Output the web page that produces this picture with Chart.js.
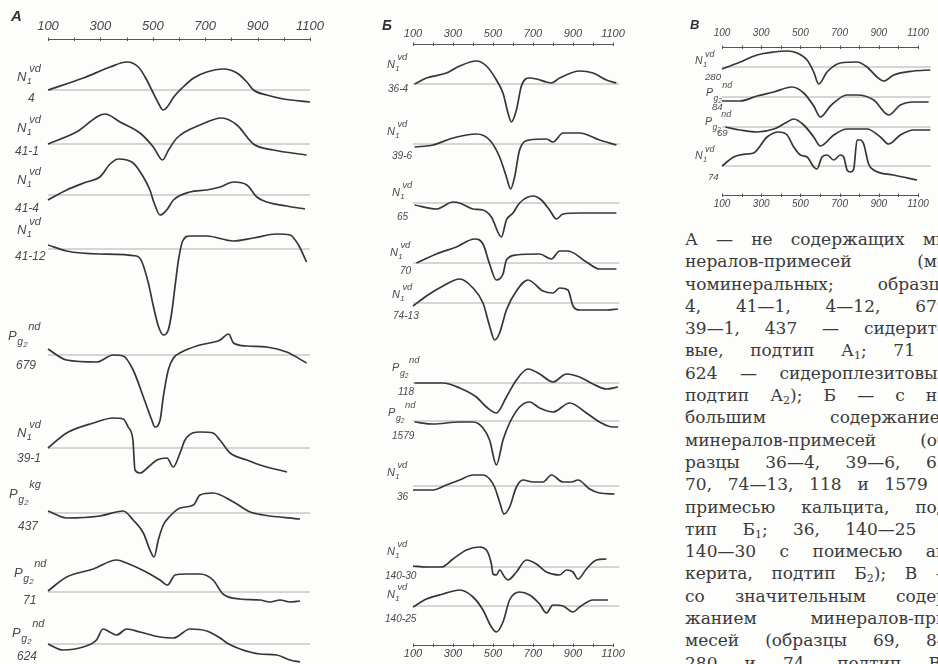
<!DOCTYPE html>
<html><head><meta charset="utf-8">
<script src="https://cdn.jsdelivr.net/npm/chart.js@4.4.1/dist/chart.umd.min.js"></script>
<style>
html,body{margin:0;padding:0}
body{width:938px;height:664px;overflow:hidden;position:relative;background:#fdfdfc}
canvas{position:absolute}
.t{position:absolute;font-family:"Liberation Sans",sans-serif;font-style:italic;color:#4a4a4a;line-height:1;white-space:nowrap}
#txt{position:absolute;left:685px;top:228px;font-family:"DejaVu Serif",serif;font-size:17px;color:#3a3a3a}
#txt div{width:268px;height:22.3px;line-height:22.3px;text-align:justify;text-align-last:justify;overflow:visible}
#txt sub{font-size:11px;line-height:0;vertical-align:-3px}
</style></head><body>
<div id="txt">
<div>А — не содержащих ми-</div>
<div>нералов-примесей (мо-</div>
<div>чоминеральных; образцы</div>
<div>4, 41—1, 4—12, 679,</div>
<div>39—1, 437 — сидерито-</div>
<div>вые, подтип А<sub>1</sub>; 71 и</div>
<div>624 — сидероплезитовые,</div>
<div>подтип А<sub>2</sub>); Б — с не-</div>
<div>большим содержанием</div>
<div>минералов-примесей (об-</div>
<div>разцы 36—4, 39—6, 65,</div>
<div>70, 74—13, 118 и 1579 с</div>
<div>примесью кальцита, под-</div>
<div>тип Б<sub>1</sub>; 36, 140—25 и</div>
<div>140—30 с поимесью ан-</div>
<div>керита, подтип Б<sub>2</sub>); В —</div>
<div>со значительным содер-</div>
<div>жанием минералов-при-</div>
<div>месей (образцы 69, 84,</div>
<div>280 и 74, подтип В).</div>
</div>
<script>
// ---------- axis ticks ----------
const TICKS = [100,200,300,400,500,600,700,800,900,1000,1100];
const TICK_LABELS = [100,300,500,700,900,1100];

// ---------- Panel A : temperatures (°C) and DTA deflections ----------
const A_4_T    = [100,235,337,401,445,477,496,521,539,555,580,612,656,706,770,821,859,884,935,999,1100];
const A_4_D    = [0,12,23,28,23,10,0,-13,-20,-17,-7,2,12,18,21,17,8,0,-5,-9,-12];
const A_41_1_T = [100,209,318,375,451,502,537,560,592,680,763,821,884,960,1087];
const A_41_1_D = [0,12,30,22,11,-3,-16,-6,6,19,26,19,0,-6,-11];
const A_41_4_T = [100,171,247,298,337,368,425,464,489,505,528,553,579,642,706,757,808,859,897,935,1011,1081];
const A_41_4_D = [-5,5,13,18,31,36,32,18,5,-8,-20,-15,-5,3,5,8,13,10,-2,-7,-11,-14];
const A_41_12_T= [100,171,298,438,457,483,502,521,540,559,572,585,598,614,642,706,808,884,973,1024,1056,1087];
const A_41_12_D= [4,-2,-5,-7,-12,-34,-57,-77,-86,-81,-64,-37,-11,8,13,13,8,11,15,14,4,-13];
const A_679_T  = [100,171,286,349,387,425,464,496,508,528,540,559,579,610,680,757,789,808,859,935,1011,1087];
const A_679_D  = [6,-5,-7,0,-1,-15,-42,-65,-72,-65,-42,-15,-3,3,10,15,21,12,9,8,3,-8];
const A_39_1_T = [100,171,273,349,387,406,424,432,451,483,516,554,578,604,623,680,730,756,795,859,909,1012];
const A_39_1_D = [0,15,25,30,29,21,8,-22,-25,-19,-12,-10,-19,-5,8,16,15,8,-5,-12,-17,-24];
const A_437_T  = [100,171,298,387,425,464,489,505,521,540,566,604,655,680,730,808,872,922,1062];
const A_437_D  = [2,-5,-3,2,-7,-20,-37,-44,-27,-12,-3,5,8,18,20,11,1,-2,-6];
const A_71_T   = [100,171,273,362,400,489,527,556,585,630,680,730,768,833,909,947,986,1024,1062];
const A_71_D   = [1,15,23,32,29,18,12,7,17,18,18,12,-2,-7,-8,-10,-8,-10,-9];
const A_624_T  = [100,157,234,285,310,342,362,400,451,527,579,642,706,757,783,833,909,973,1024,1062];
const A_624_D  = [0,-6,-3,4,15,11,9,15,12,7,6,15,13,6,1,-5,-10,-11,-16,-18];

// ---------- Panel Б ----------
const B_36_4_T  = [108,167,267,333,417,467,517,550,575,592,617,642,683,717,767,792,833,933,1000,1067,1117];
const B_36_4_D  = [0,6,11,18,23,18,4,-9,-29,-38,-26,-2,6,5,2,1,6,13,11,4,1];
const B_39_6_T  = [108,200,300,417,483,533,567,588,608,633,683,767,800,850,933,1033,1117];
const B_39_6_D  = [-3,-1,6,10,4,-13,-33,-45,-33,-6,4,5,2,11,11,4,-1];
const B_65_T    = [108,217,300,333,400,450,492,542,567,600,633,700,742,783,817,850,933,1117];
const B_65_D    = [-2,-6,1,0,-6,-7,-14,-34,-17,-10,0,7,3,-7,-16,-11,-10,-10];
const B_70_T    = [117,217,317,408,450,483,517,550,567,617,733,792,833,875,967,1033,1117];
const B_70_D    = [0,9,16,24,19,-1,-17,-11,3,8,9,4,12,12,1,-6,-6];
const B_74_13_T = [100,167,250,333,400,450,483,508,533,567,617,675,750,800,833,875,900,933,1067,1125];
const B_74_13_D = [-3,7,17,24,15,0,-23,-37,-30,-7,12,23,12,10,15,13,-3,-7,-7,-6];
const B_118_T   = [108,250,333,417,467,517,567,617,675,733,800,867,933,1000,1067,1125];
const B_118_D   = [0,0,-5,-14,-24,-30,-14,3,14,9,1,9,6,-1,-6,-4];
const B_1579_T  = [108,200,333,400,450,483,517,550,583,633,683,733,800,883,967,1033,1100,1125];
const B_1579_D  = [-1,-3,-1,-1,-7,-19,-44,-19,-2,14,19,13,9,18,8,-1,-6,-6];
const B_36_T    = [100,200,267,333,400,450,483,508,533,555,583,617,650,700,750,792,850,892,925,983,1033,1108];
const B_36_D    = [-4,-4,1,6,11,11,7,-1,-16,-28,-21,-1,6,4,4,11,4,4,6,-3,-7,-8];
const B_140_30_T= [100,167,242,300,367,433,467,492,500,517,533,558,575,617,667,717,767,833,867,900,925,967,1017,1067];
const B_140_30_D= [1,0,0,8,17,20,17,3,-7,-8,-3,-10,-13,-5,7,3,-5,-8,-3,-5,-12,-2,7,8];
const B_140_25_T= [100,167,250,333,400,450,492,517,550,583,633,683,733,767,800,850,900,933,1000,1075];
const B_140_25_D= [-1,7,12,16,9,-4,-21,-26,-16,6,14,11,2,-7,1,0,-6,-1,6,6];

// ---------- Panel В ----------
const V_280_T = [100,193,279,364,432,483,534,568,593,636,704,789,840,891,925,976,1078,1163];
const V_280_D = [-2,5,12,15,16,14,7,-5,-17,-5,4,5,0,-10,-14,-8,-4,-3];
const V_84_T  = [100,193,279,364,457,517,568,602,653,738,789,874,950,1010,1078,1154];
const V_84_D  = [-4,-4,1,5,10,4,-9,-20,-9,2,2,-3,-18,-8,-5,-5];
const V_69_T  = [117,193,279,364,432,466,517,568,602,670,738,840,908,950,1010,1078,1163];
const V_69_D  = [0,-3,-5,-2,5,8,2,-10,-19,-8,-2,-2,-10,-17,-8,-3,-3];
const V_74_T  = [100,160,228,262,330,389,432,466,500,534,568,585,610,636,670,704,721,738,755,772,789,806,823,848,874,976,1095];
const V_74_D  = [0,9,12,13,29,34,31,19,11,9,-1,-3,9,11,6,11,9,-4,-6,-3,26,26,22,2,-4,-9,-14];

// ---------- layout ----------
const PANELS = [
  {left:0, w:330, h:664, axTop:39, axBot:null, p100:48, p1100:310, baseEnd:1100, tfs:13, padTop:5, padBot:0,
   bases:[90,144,195,249,355,448,513,592,644],
   curves:[[A_4_T,A_4_D],[A_41_1_T,A_41_1_D],[A_41_4_T,A_41_4_D],[A_41_12_T,A_41_12_D],[A_679_T,A_679_D],
           [A_39_1_T,A_39_1_D],[A_437_T,A_437_D],[A_71_T,A_71_D],[A_624_T,A_624_D]]},
  {left:360, w:275, h:664, axTop:44, axBot:645, p100:413, p1100:613, baseEnd:1132, tfs:11, padTop:3, padBot:2,
   bases:[84,144,203,263,303,383,421,486,567,606],
   curves:[[B_36_4_T,B_36_4_D],[B_39_6_T,B_39_6_D],[B_65_T,B_65_D],[B_70_T,B_70_D],[B_74_13_T,B_74_13_D],
           [B_118_T,B_118_D],[B_1579_T,B_1579_D],[B_36_T,B_36_D],[B_140_30_T,B_140_30_D],[B_140_25_T,B_140_25_D]]},
  {left:660, w:278, h:215, axTop:47, axBot:195, p100:722, p1100:918, baseEnd:1165, tfs:10, padTop:8, padBot:3,
   bases:[67,97,127,166],
   curves:[[V_280_T,V_280_D],[V_84_T,V_84_D],[V_69_T,V_69_D],[V_74_T,V_74_D]]}
];

const axisLinePlugin = {
  id:'axisLine',
  afterDraw(chart){
    const ctx = chart.ctx, xs = chart.scales.x, a = chart.chartArea;
    const ys = [a.top]; if (chart.options.plugins.axisLine.bottom) ys.push(a.bottom);
    ctx.save(); ctx.strokeStyle = '#555'; ctx.lineWidth = 1;
    ys.forEach(y => {
      const yy = Math.round(y) + 0.5;
      ctx.beginPath(); ctx.moveTo(xs.getPixelForValue(100), yy); ctx.lineTo(xs.getPixelForValue(1100), yy); ctx.stroke();
      TICKS.forEach(v => { const px = Math.round(xs.getPixelForValue(v)) + 0.5; ctx.beginPath(); ctx.moveTo(px, yy - 2); ctx.lineTo(px, yy + 1.5); ctx.stroke(); });
    });
    ctx.restore();
  }
};

PANELS.forEach(p => {
  const cv = document.createElement('canvas');
  cv.width = p.w; cv.height = p.h; cv.style.left = p.left + 'px'; cv.style.top = '0px';
  document.body.appendChild(cv);
  const ppd = (p.p1100 - p.p100) / 1000;
  const xmin = 100 - (p.p100 - p.left) / ppd;
  const xmax = xmin + p.w / ppd;
  const bottom = p.axBot === null ? p.h : p.axBot;
  const datasets = [];
  p.curves.forEach((c, i) => {
    const b = p.bases[i];
    datasets.push({data:[{x:100,y:-b},{x:p.baseEnd,y:-b}], borderColor:'#a5a5a5', borderWidth:0.9, pointRadius:0, tension:0, clip:false, order:2});
    datasets.push({data:c[0].map((t,k)=>({x:t,y:-b + c[1][k]})), borderColor:'#363636', borderWidth:1.7, pointRadius:0, cubicInterpolationMode:'monotone', clip:false, order:1});
  });
  const axis = (pos, h, pad) => ({
    type:'linear', position:pos, min:xmin, max:xmax,
    afterBuildTicks: s => { s.ticks = TICKS.map(v => ({value:v})); },
    afterFit: s => { s.height = h; },
    grid:{display:false, drawTicks:false}, border:{display:false},
    ticks:{autoSkip:false, maxRotation:0, padding:pad, color:'#474747',
      font:{family:'Liberation Sans', style:'italic', size:p.tfs},
      callback: v => TICK_LABELS.includes(v) ? String(v) : ''}
  });
  const scales = {x: axis('top', p.axTop, p.padTop), y:{display:false, min:-bottom, max:-p.axTop}};
  if (p.axBot !== null) scales.x2 = axis('bottom', p.h - p.axBot, p.padBot);
  new Chart(cv, {
    type:'line', data:{datasets},
    options:{responsive:false, animation:false, devicePixelRatio:1, parsing:true,
      layout:{padding:0}, scales,
      plugins:{legend:{display:false}, tooltip:{enabled:false}, axisLine:{bottom:p.axBot !== null}}},
    plugins:[axisLinePlugin]
  });
});

// ---------- text labels ----------
function put(html, x, yc, fs, extra) {
  const d = document.createElement('div'); d.className = 't';
  d.innerHTML = html; d.style.left = x + 'px'; d.style.top = (yc - fs * 0.55) + 'px'; d.style.fontSize = fs + 'px';
  if (extra) d.style.cssText += extra;
  document.body.appendChild(d);
}
function curveLabel(L, fs) {
  put(L.m, L.x, L.y, fs);
  if (L.m === 'N') {
    put('1', L.x + fs * 0.75, L.y + fs * 0.35, fs * 0.7);
    put(L.s, L.x + fs * 0.95, L.y - fs * 0.6, fs * 0.85);
  } else {
    put('g<span style="font-size:75%;position:relative;top:2px">2</span>', L.x + fs * 0.72, L.y + fs * 0.5, fs * 0.8);
    put(L.s, L.x + fs * 1.55, L.y - fs * 0.65, fs * 0.85);
  }
  put(L.n, L.nx, L.ny, fs * 0.92);
}
const LABELS_A = [
  {m:'N',s:'vd',n:'4',x:17,y:77,nx:28,ny:100},
  {m:'N',s:'vd',n:'41-1',x:17,y:128,nx:15,ny:153},
  {m:'N',s:'vd',n:'41-4',x:17,y:180,nx:15,ny:210},
  {m:'N',s:'vd',n:'41-12',x:17,y:230,nx:15,ny:258},
  {m:'P',s:'nd',n:'679',x:8,y:336,nx:16,ny:367},
  {m:'N',s:'vd',n:'39-1',x:17,y:433,nx:17,ny:460},
  {m:'P',s:'kg',n:'437',x:9,y:494,nx:18,ny:528},
  {m:'P',s:'nd',n:'71',x:14,y:573,nx:23,ny:602},
  {m:'P',s:'nd',n:'624',x:12,y:633,nx:17,ny:658}];
const LABELS_B = [
  {m:'N',s:'vd',n:'36-4',x:387,y:65,nx:388,ny:90},
  {m:'N',s:'vd',n:'39-6',x:387,y:132,nx:392,ny:157},
  {m:'N',s:'vd',n:'65',x:392,y:193,nx:397,ny:218},
  {m:'N',s:'vd',n:'70',x:390,y:253,nx:400,ny:272},
  {m:'N',s:'vd',n:'74-13',x:392,y:295,nx:393,ny:317},
  {m:'P',s:'nd',n:'118',x:392,y:368,nx:398,ny:393},
  {m:'P',s:'nd',n:'1579',x:388,y:413,nx:392,ny:437},
  {m:'N',s:'vd',n:'36',x:387,y:473,nx:397,ny:498},
  {m:'N',s:'vd',n:'140-30',x:387,y:552,nx:385,ny:577},
  {m:'N',s:'vd',n:'140-25',x:387,y:595,nx:385,ny:620}];
const LABELS_V = [
  {m:'N',s:'vd',n:'280',x:695,y:61,nx:705,ny:77},
  {m:'P',s:'nd',n:'84',x:706,y:93,nx:712,ny:107},
  {m:'P',s:'nd',n:'69',x:705,y:122,nx:717,ny:133},
  {m:'N',s:'vd',n:'74',x:695,y:156,nx:708,ny:177}];
LABELS_A.forEach(L => curveLabel(L, 13));
LABELS_B.forEach(L => curveLabel(L, 11));
LABELS_V.forEach(L => curveLabel(L, 10.5));
put('А', 11, 16, 15, 'font-weight:bold;color:#333');
put('Б', 382, 26, 14, 'font-weight:bold;color:#333');
put('В', 690, 25, 13, 'font-weight:bold;color:#333');

// keep each text line on a single justified line
document.querySelectorAll('#txt div').forEach(d => {
  let ls = 0;
  while (d.scrollHeight > 30 && ls > -3) { ls -= 0.25; d.style.letterSpacing = ls + 'px'; }
});
</script>
</body></html>
